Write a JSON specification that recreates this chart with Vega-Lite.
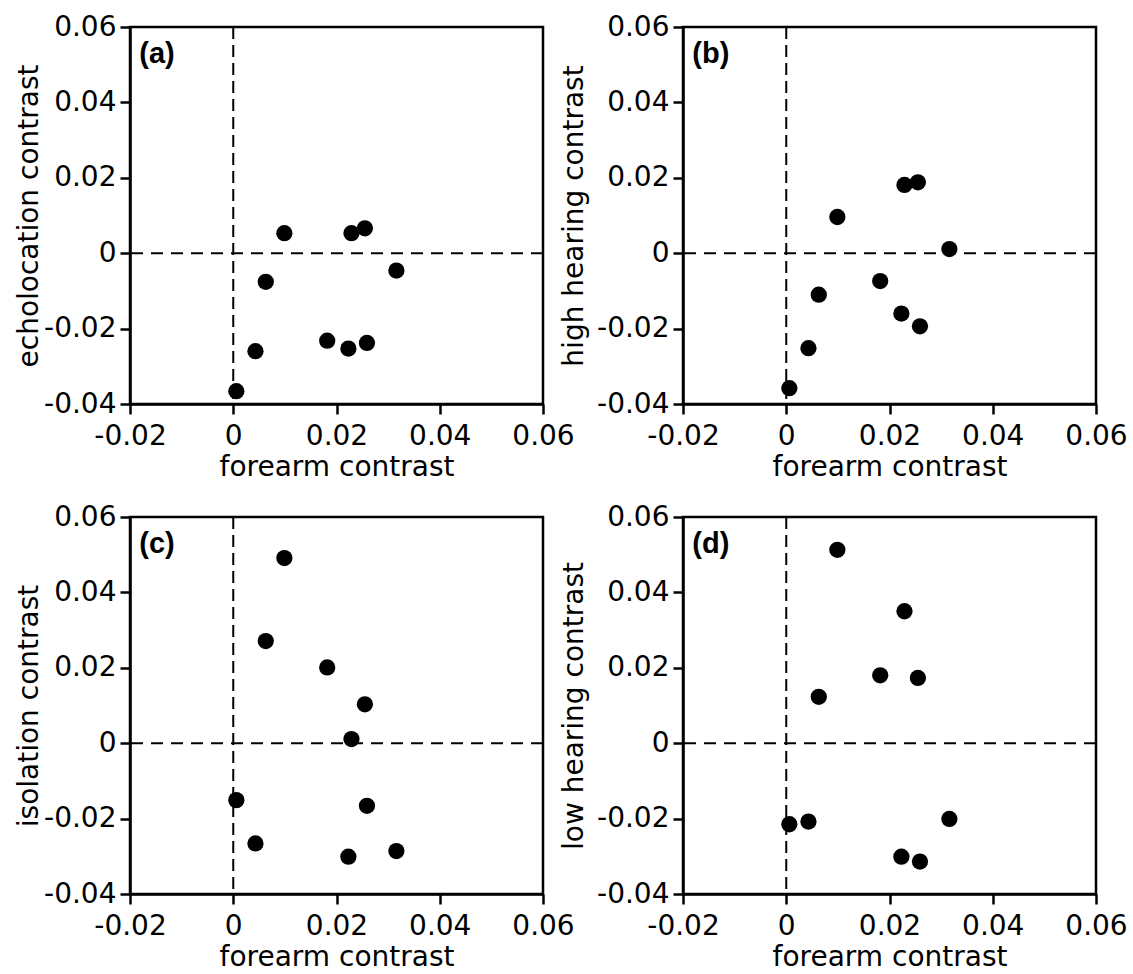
{
  "$schema": "https://vega.github.io/schema/vega-lite/v6.json",
  "background": "white",
  "padding": {"left": 14, "top": 11, "right": 0, "bottom": 0},
  "bounds": "flush",
  "columns": 2,
  "spacing": {"row": 113, "column": 140},
  "data": {"values": [
    {"forearm": 0.0006, "echolocation": -0.0366, "high_hearing": -0.0358, "isolation": -0.0151, "low_hearing": -0.0215},
    {"forearm": 0.0043, "echolocation": -0.0260, "high_hearing": -0.0252, "isolation": -0.0266, "low_hearing": -0.0208},
    {"forearm": 0.0063, "echolocation": -0.0076, "high_hearing": -0.0110, "isolation": 0.0271, "low_hearing": 0.0123},
    {"forearm": 0.0099, "echolocation": 0.0053, "high_hearing": 0.0096, "isolation": 0.0491, "low_hearing": 0.0513},
    {"forearm": 0.0182, "echolocation": -0.0232, "high_hearing": -0.0074, "isolation": 0.0201, "low_hearing": 0.0180},
    {"forearm": 0.0223, "echolocation": -0.0253, "high_hearing": -0.0160, "isolation": -0.0301, "low_hearing": -0.0301},
    {"forearm": 0.0229, "echolocation": 0.0053, "high_hearing": 0.0181, "isolation": 0.0011, "low_hearing": 0.0350},
    {"forearm": 0.0255, "echolocation": 0.0066, "high_hearing": 0.0188, "isolation": 0.0103, "low_hearing": 0.0173},
    {"forearm": 0.0259, "echolocation": -0.0238, "high_hearing": -0.0194, "isolation": -0.0166, "low_hearing": -0.0314},
    {"forearm": 0.0316, "echolocation": -0.0046, "high_hearing": 0.0011, "isolation": -0.0286, "low_hearing": -0.0201}
  ]},
  "concat": [
    {
      "width": 413, "height": 377,
      "layer": [
        {"data": {"values": [{}]}, "mark": {"type": "rule", "color": "black", "strokeWidth": 2, "strokeDash": [12, 6]},
         "encoding": {"x": {"datum": 0, "type": "quantitative", "title": "forearm contrast", "scale": {"domain": [-0.02, 0.06], "nice": false, "zero": false}}}},
        {"data": {"values": [{}]}, "mark": {"type": "rule", "color": "black", "strokeWidth": 2, "strokeDash": [12, 8]},
         "encoding": {"y": {"datum": 0, "type": "quantitative", "title": "echolocation contrast", "scale": {"domain": [-0.04, 0.06], "nice": false, "zero": false}}}},
        {"mark": {"type": "point", "filled": true, "color": "black", "opacity": 1, "size": 265},
         "encoding": {
           "x": {"field": "forearm", "type": "quantitative", "title": "forearm contrast", "scale": {"domain": [-0.02, 0.06], "nice": false, "zero": false},
                 "axis": {"values": [-0.02, 0, 0.02, 0.04, 0.06], "labelExpr": "datum.value == 0 ? '0' : (datum.value < 0 ? '-' + format(-datum.value, '.2f') : format(datum.value, '.2f'))"}},
           "y": {"field": "echolocation", "type": "quantitative", "title": "echolocation contrast", "scale": {"domain": [-0.04, 0.06], "nice": false, "zero": false},
                 "axis": {"values": [-0.04, -0.02, 0, 0.02, 0.04, 0.06], "labelExpr": "datum.value == 0 ? '0' : (datum.value < 0 ? '-' + format(-datum.value, '.2f') : format(datum.value, '.2f'))"}}
         }},
        {"data": {"values": [{"label": "(a)"}]}, "mark": {"type": "text", "align": "left", "baseline": "alphabetic", "font": "Liberation Sans", "fontWeight": "bold", "fontSize": 29, "color": "black"},
         "encoding": {"x": {"datum": -0.0182, "type": "quantitative"}, "y": {"datum": 0.0505, "type": "quantitative"}, "text": {"field": "label"}}}
      ]
    },
    {
      "width": 413, "height": 377,
      "layer": [
        {"data": {"values": [{}]}, "mark": {"type": "rule", "color": "black", "strokeWidth": 2, "strokeDash": [12, 6]},
         "encoding": {"x": {"datum": 0, "type": "quantitative", "title": "forearm contrast", "scale": {"domain": [-0.02, 0.06], "nice": false, "zero": false}}}},
        {"data": {"values": [{}]}, "mark": {"type": "rule", "color": "black", "strokeWidth": 2, "strokeDash": [12, 8]},
         "encoding": {"y": {"datum": 0, "type": "quantitative", "title": "high hearing contrast", "scale": {"domain": [-0.04, 0.06], "nice": false, "zero": false}}}},
        {"mark": {"type": "point", "filled": true, "color": "black", "opacity": 1, "size": 265},
         "encoding": {
           "x": {"field": "forearm", "type": "quantitative", "title": "forearm contrast", "scale": {"domain": [-0.02, 0.06], "nice": false, "zero": false},
                 "axis": {"values": [-0.02, 0, 0.02, 0.04, 0.06], "labelExpr": "datum.value == 0 ? '0' : (datum.value < 0 ? '-' + format(-datum.value, '.2f') : format(datum.value, '.2f'))"}},
           "y": {"field": "high_hearing", "type": "quantitative", "title": "high hearing contrast", "scale": {"domain": [-0.04, 0.06], "nice": false, "zero": false},
                 "axis": {"titlePadding": 8, "values": [-0.04, -0.02, 0, 0.02, 0.04, 0.06], "labelExpr": "datum.value == 0 ? '0' : (datum.value < 0 ? '-' + format(-datum.value, '.2f') : format(datum.value, '.2f'))"}}
         }},
        {"data": {"values": [{"label": "(b)"}]}, "mark": {"type": "text", "align": "left", "baseline": "alphabetic", "font": "Liberation Sans", "fontWeight": "bold", "fontSize": 29, "color": "black"},
         "encoding": {"x": {"datum": -0.0182, "type": "quantitative"}, "y": {"datum": 0.0505, "type": "quantitative"}, "text": {"field": "label"}}}
      ]
    },
    {
      "width": 413, "height": 377,
      "layer": [
        {"data": {"values": [{}]}, "mark": {"type": "rule", "color": "black", "strokeWidth": 2, "strokeDash": [12, 6]},
         "encoding": {"x": {"datum": 0, "type": "quantitative", "title": "forearm contrast", "scale": {"domain": [-0.02, 0.06], "nice": false, "zero": false}}}},
        {"data": {"values": [{}]}, "mark": {"type": "rule", "color": "black", "strokeWidth": 2, "strokeDash": [12, 8]},
         "encoding": {"y": {"datum": 0, "type": "quantitative", "title": "isolation contrast", "scale": {"domain": [-0.04, 0.06], "nice": false, "zero": false}}}},
        {"mark": {"type": "point", "filled": true, "color": "black", "opacity": 1, "size": 265},
         "encoding": {
           "x": {"field": "forearm", "type": "quantitative", "title": "forearm contrast", "scale": {"domain": [-0.02, 0.06], "nice": false, "zero": false},
                 "axis": {"values": [-0.02, 0, 0.02, 0.04, 0.06], "labelExpr": "datum.value == 0 ? '0' : (datum.value < 0 ? '-' + format(-datum.value, '.2f') : format(datum.value, '.2f'))"}},
           "y": {"field": "isolation", "type": "quantitative", "title": "isolation contrast", "scale": {"domain": [-0.04, 0.06], "nice": false, "zero": false},
                 "axis": {"values": [-0.04, -0.02, 0, 0.02, 0.04, 0.06], "labelExpr": "datum.value == 0 ? '0' : (datum.value < 0 ? '-' + format(-datum.value, '.2f') : format(datum.value, '.2f'))"}}
         }},
        {"data": {"values": [{"label": "(c)"}]}, "mark": {"type": "text", "align": "left", "baseline": "alphabetic", "font": "Liberation Sans", "fontWeight": "bold", "fontSize": 29, "color": "black"},
         "encoding": {"x": {"datum": -0.0182, "type": "quantitative"}, "y": {"datum": 0.0505, "type": "quantitative"}, "text": {"field": "label"}}}
      ]
    },
    {
      "width": 413, "height": 377,
      "layer": [
        {"data": {"values": [{}]}, "mark": {"type": "rule", "color": "black", "strokeWidth": 2, "strokeDash": [12, 6]},
         "encoding": {"x": {"datum": 0, "type": "quantitative", "title": "forearm contrast", "scale": {"domain": [-0.02, 0.06], "nice": false, "zero": false}}}},
        {"data": {"values": [{}]}, "mark": {"type": "rule", "color": "black", "strokeWidth": 2, "strokeDash": [12, 8]},
         "encoding": {"y": {"datum": 0, "type": "quantitative", "title": "low hearing contrast", "scale": {"domain": [-0.04, 0.06], "nice": false, "zero": false}}}},
        {"mark": {"type": "point", "filled": true, "color": "black", "opacity": 1, "size": 265},
         "encoding": {
           "x": {"field": "forearm", "type": "quantitative", "title": "forearm contrast", "scale": {"domain": [-0.02, 0.06], "nice": false, "zero": false},
                 "axis": {"values": [-0.02, 0, 0.02, 0.04, 0.06], "labelExpr": "datum.value == 0 ? '0' : (datum.value < 0 ? '-' + format(-datum.value, '.2f') : format(datum.value, '.2f'))"}},
           "y": {"field": "low_hearing", "type": "quantitative", "title": "low hearing contrast", "scale": {"domain": [-0.04, 0.06], "nice": false, "zero": false},
                 "axis": {"titlePadding": 8, "values": [-0.04, -0.02, 0, 0.02, 0.04, 0.06], "labelExpr": "datum.value == 0 ? '0' : (datum.value < 0 ? '-' + format(-datum.value, '.2f') : format(datum.value, '.2f'))"}}
         }},
        {"data": {"values": [{"label": "(d)"}]}, "mark": {"type": "text", "align": "left", "baseline": "alphabetic", "font": "Liberation Sans", "fontWeight": "bold", "fontSize": 29, "color": "black"},
         "encoding": {"x": {"datum": -0.0182, "type": "quantitative"}, "y": {"datum": 0.0505, "type": "quantitative"}, "text": {"field": "label"}}}
      ]
    }
  ],
  "config": {
    "font": "DejaVu Sans",
    "view": {"stroke": "black", "strokeWidth": 2.5},
    "axis": {
      "grid": false,
      "domainColor": "black", "domainWidth": 2.5,
      "tickColor": "black", "tickWidth": 2.5, "tickSize": 10,
      "labelFont": "DejaVu Sans", "labelFontSize": 28, "labelColor": "black",
      "titleFont": "DejaVu Sans", "titleFontSize": 28, "titleFontWeight": "normal", "titleColor": "black",
      "labelFlush": false, "labelOverlap": false
    },
    "axisX": {"labelPadding": 8, "titlePadding": 3},
    "axisY": {"labelPadding": 4, "titlePadding": 0}
  }
}
